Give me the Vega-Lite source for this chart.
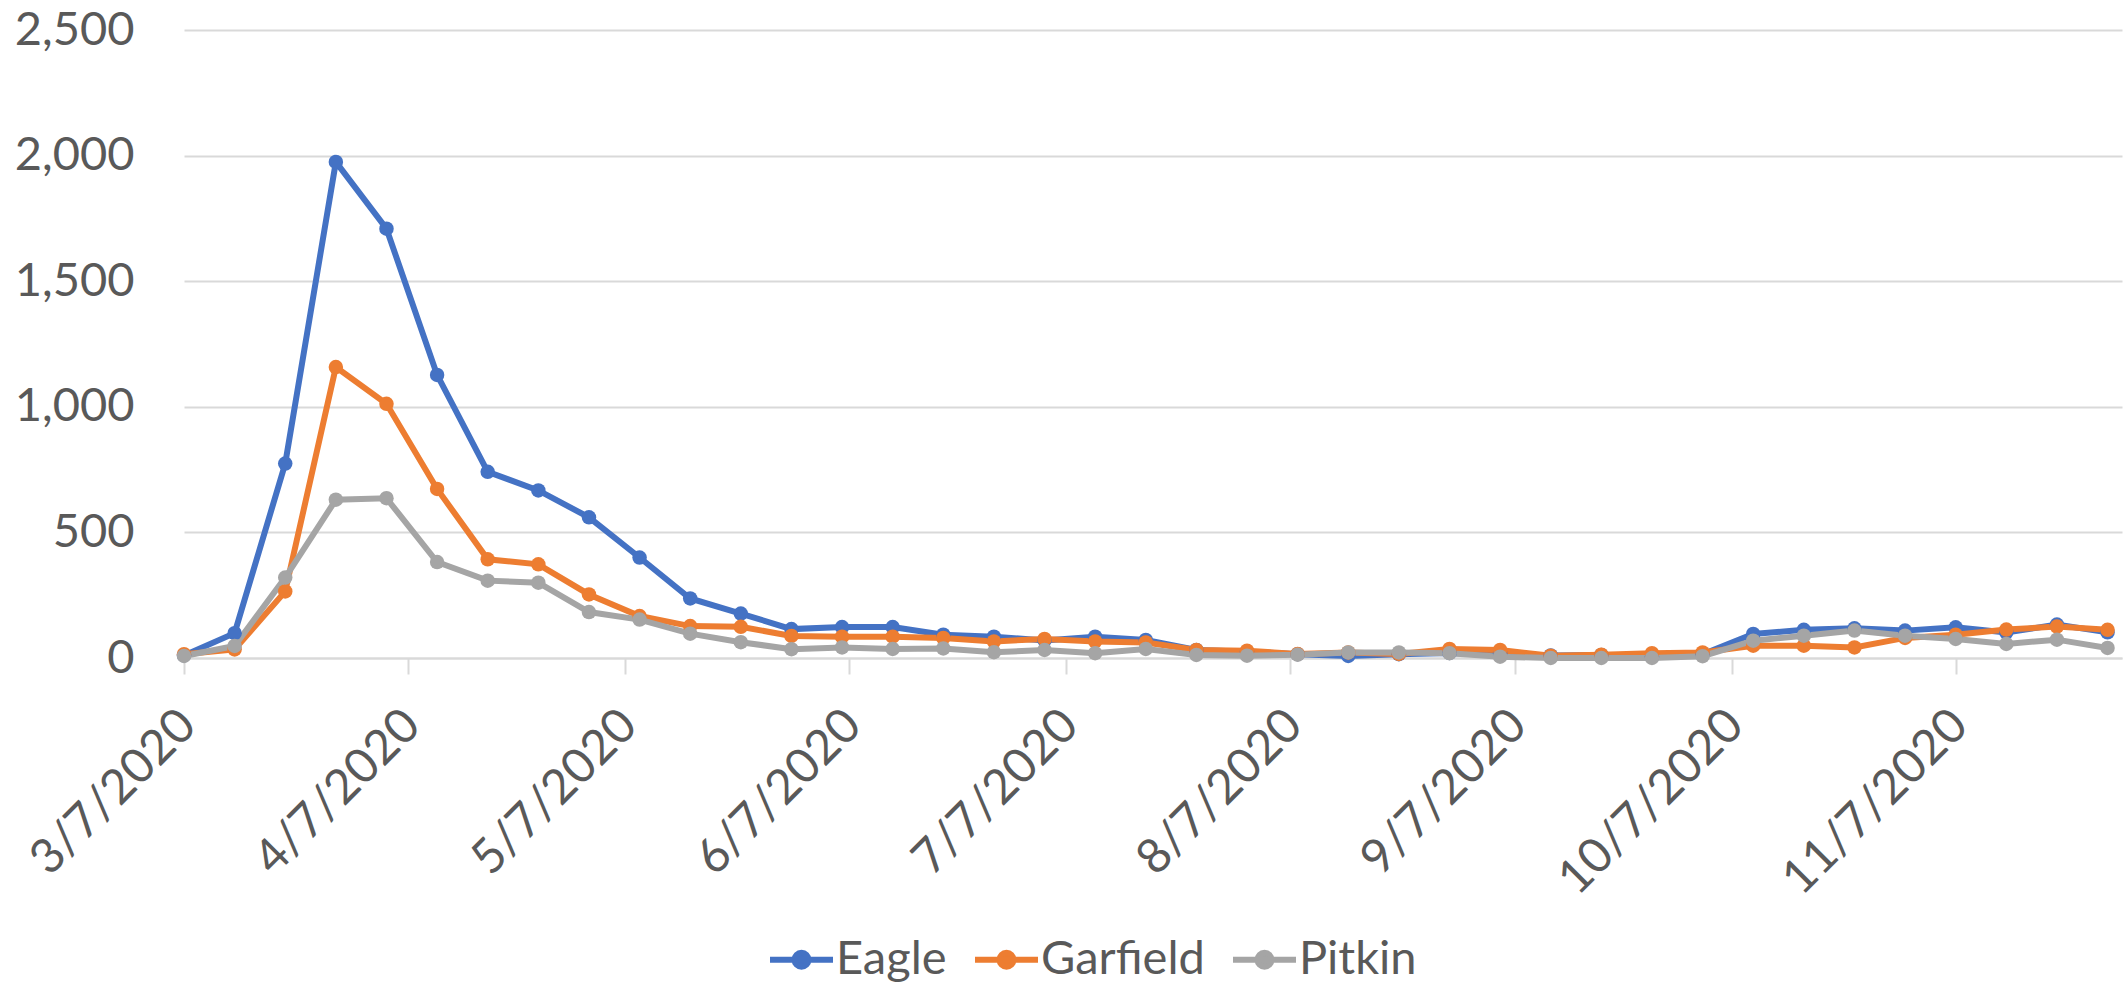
{
  "$schema": "https://vega.github.io/schema/vega-lite/v6.json",
  "width": 1938,
  "height": 628,
  "autosize": {"type": "none"},
  "padding": {"left": 184, "top": 30, "right": 4, "bottom": 325},
  "background": "white",
  "config": {"view": {"stroke": null}, "font": "Lato"},
  "data": {
    "values": [
      {"date": "2020/03/07", "county": "Eagle", "cases": 10},
      {"date": "2020/03/14", "county": "Eagle", "cases": 99},
      {"date": "2020/03/21", "county": "Eagle", "cases": 774},
      {"date": "2020/03/28", "county": "Eagle", "cases": 1975},
      {"date": "2020/04/04", "county": "Eagle", "cases": 1709},
      {"date": "2020/04/11", "county": "Eagle", "cases": 1127},
      {"date": "2020/04/18", "county": "Eagle", "cases": 741},
      {"date": "2020/04/25", "county": "Eagle", "cases": 667},
      {"date": "2020/05/02", "county": "Eagle", "cases": 560},
      {"date": "2020/05/09", "county": "Eagle", "cases": 400},
      {"date": "2020/05/16", "county": "Eagle", "cases": 237},
      {"date": "2020/05/23", "county": "Eagle", "cases": 177},
      {"date": "2020/05/30", "county": "Eagle", "cases": 115},
      {"date": "2020/06/06", "county": "Eagle", "cases": 123},
      {"date": "2020/06/13", "county": "Eagle", "cases": 123},
      {"date": "2020/06/20", "county": "Eagle", "cases": 93},
      {"date": "2020/06/27", "county": "Eagle", "cases": 85},
      {"date": "2020/07/04", "county": "Eagle", "cases": 70},
      {"date": "2020/07/11", "county": "Eagle", "cases": 85},
      {"date": "2020/07/18", "county": "Eagle", "cases": 72},
      {"date": "2020/07/25", "county": "Eagle", "cases": 32},
      {"date": "2020/08/01", "county": "Eagle", "cases": 25},
      {"date": "2020/08/08", "county": "Eagle", "cases": 15},
      {"date": "2020/08/15", "county": "Eagle", "cases": 8},
      {"date": "2020/08/22", "county": "Eagle", "cases": 15},
      {"date": "2020/08/29", "county": "Eagle", "cases": 20},
      {"date": "2020/09/05", "county": "Eagle", "cases": 18},
      {"date": "2020/09/12", "county": "Eagle", "cases": 10},
      {"date": "2020/09/19", "county": "Eagle", "cases": 12},
      {"date": "2020/09/26", "county": "Eagle", "cases": 5},
      {"date": "2020/10/03", "county": "Eagle", "cases": 15},
      {"date": "2020/10/10", "county": "Eagle", "cases": 96},
      {"date": "2020/10/17", "county": "Eagle", "cases": 112},
      {"date": "2020/10/24", "county": "Eagle", "cases": 118},
      {"date": "2020/10/31", "county": "Eagle", "cases": 109},
      {"date": "2020/11/07", "county": "Eagle", "cases": 122},
      {"date": "2020/11/14", "county": "Eagle", "cases": 102},
      {"date": "2020/11/21", "county": "Eagle", "cases": 133},
      {"date": "2020/11/28", "county": "Eagle", "cases": 102},
      {"date": "2020/03/07", "county": "Garfield", "cases": 15},
      {"date": "2020/03/14", "county": "Garfield", "cases": 34},
      {"date": "2020/03/21", "county": "Garfield", "cases": 265},
      {"date": "2020/03/28", "county": "Garfield", "cases": 1158},
      {"date": "2020/04/04", "county": "Garfield", "cases": 1012},
      {"date": "2020/04/11", "county": "Garfield", "cases": 673},
      {"date": "2020/04/18", "county": "Garfield", "cases": 393},
      {"date": "2020/04/25", "county": "Garfield", "cases": 373},
      {"date": "2020/05/02", "county": "Garfield", "cases": 253},
      {"date": "2020/05/09", "county": "Garfield", "cases": 167},
      {"date": "2020/05/16", "county": "Garfield", "cases": 127},
      {"date": "2020/05/23", "county": "Garfield", "cases": 124},
      {"date": "2020/05/30", "county": "Garfield", "cases": 88},
      {"date": "2020/06/06", "county": "Garfield", "cases": 85},
      {"date": "2020/06/13", "county": "Garfield", "cases": 85},
      {"date": "2020/06/20", "county": "Garfield", "cases": 80},
      {"date": "2020/06/27", "county": "Garfield", "cases": 66},
      {"date": "2020/07/04", "county": "Garfield", "cases": 76},
      {"date": "2020/07/11", "county": "Garfield", "cases": 66},
      {"date": "2020/07/18", "county": "Garfield", "cases": 62},
      {"date": "2020/07/25", "county": "Garfield", "cases": 32},
      {"date": "2020/08/01", "county": "Garfield", "cases": 29},
      {"date": "2020/08/08", "county": "Garfield", "cases": 16},
      {"date": "2020/08/15", "county": "Garfield", "cases": 22},
      {"date": "2020/08/22", "county": "Garfield", "cases": 16},
      {"date": "2020/08/29", "county": "Garfield", "cases": 36},
      {"date": "2020/09/05", "county": "Garfield", "cases": 32},
      {"date": "2020/09/12", "county": "Garfield", "cases": 9},
      {"date": "2020/09/19", "county": "Garfield", "cases": 13},
      {"date": "2020/09/26", "county": "Garfield", "cases": 19},
      {"date": "2020/10/03", "county": "Garfield", "cases": 22},
      {"date": "2020/10/10", "county": "Garfield", "cases": 49},
      {"date": "2020/10/17", "county": "Garfield", "cases": 49},
      {"date": "2020/10/24", "county": "Garfield", "cases": 42},
      {"date": "2020/10/31", "county": "Garfield", "cases": 80},
      {"date": "2020/11/07", "county": "Garfield", "cases": 93},
      {"date": "2020/11/14", "county": "Garfield", "cases": 113},
      {"date": "2020/11/21", "county": "Garfield", "cases": 125},
      {"date": "2020/11/28", "county": "Garfield", "cases": 112},
      {"date": "2020/03/07", "county": "Pitkin", "cases": 8},
      {"date": "2020/03/14", "county": "Pitkin", "cases": 48},
      {"date": "2020/03/21", "county": "Pitkin", "cases": 320},
      {"date": "2020/03/28", "county": "Pitkin", "cases": 630},
      {"date": "2020/04/04", "county": "Pitkin", "cases": 636},
      {"date": "2020/04/11", "county": "Pitkin", "cases": 382},
      {"date": "2020/04/18", "county": "Pitkin", "cases": 308},
      {"date": "2020/04/25", "county": "Pitkin", "cases": 300},
      {"date": "2020/05/02", "county": "Pitkin", "cases": 183},
      {"date": "2020/05/09", "county": "Pitkin", "cases": 153},
      {"date": "2020/05/16", "county": "Pitkin", "cases": 97},
      {"date": "2020/05/23", "county": "Pitkin", "cases": 63},
      {"date": "2020/05/30", "county": "Pitkin", "cases": 35},
      {"date": "2020/06/06", "county": "Pitkin", "cases": 42},
      {"date": "2020/06/13", "county": "Pitkin", "cases": 36},
      {"date": "2020/06/20", "county": "Pitkin", "cases": 38},
      {"date": "2020/06/27", "county": "Pitkin", "cases": 23},
      {"date": "2020/07/04", "county": "Pitkin", "cases": 32},
      {"date": "2020/07/11", "county": "Pitkin", "cases": 19},
      {"date": "2020/07/18", "county": "Pitkin", "cases": 36},
      {"date": "2020/07/25", "county": "Pitkin", "cases": 12},
      {"date": "2020/08/01", "county": "Pitkin", "cases": 9},
      {"date": "2020/08/08", "county": "Pitkin", "cases": 13},
      {"date": "2020/08/15", "county": "Pitkin", "cases": 22},
      {"date": "2020/08/22", "county": "Pitkin", "cases": 22},
      {"date": "2020/08/29", "county": "Pitkin", "cases": 19},
      {"date": "2020/09/05", "county": "Pitkin", "cases": 5},
      {"date": "2020/09/12", "county": "Pitkin", "cases": 0},
      {"date": "2020/09/19", "county": "Pitkin", "cases": 0},
      {"date": "2020/09/26", "county": "Pitkin", "cases": 0},
      {"date": "2020/10/03", "county": "Pitkin", "cases": 7},
      {"date": "2020/10/10", "county": "Pitkin", "cases": 69},
      {"date": "2020/10/17", "county": "Pitkin", "cases": 89},
      {"date": "2020/10/24", "county": "Pitkin", "cases": 109},
      {"date": "2020/10/31", "county": "Pitkin", "cases": 89},
      {"date": "2020/11/07", "county": "Pitkin", "cases": 76},
      {"date": "2020/11/14", "county": "Pitkin", "cases": 56},
      {"date": "2020/11/21", "county": "Pitkin", "cases": 73},
      {"date": "2020/11/28", "county": "Pitkin", "cases": 40}
    ]
  },
  "encoding": {
    "x": {
      "field": "date",
      "type": "temporal",
      "scale": {"domain": [{"year": 2020, "month": 3, "date": 7}, {"year": 2020, "month": 11, "date": 30}]},
      "axis": {
        "title": null,
        "values": [
          {"year": 2020, "month": 3, "date": 7},
          {"year": 2020, "month": 4, "date": 7},
          {"year": 2020, "month": 5, "date": 7},
          {"year": 2020, "month": 6, "date": 7},
          {"year": 2020, "month": 7, "date": 7},
          {"year": 2020, "month": 8, "date": 7},
          {"year": 2020, "month": 9, "date": 7},
          {"year": 2020, "month": 10, "date": 7},
          {"year": 2020, "month": 11, "date": 7}
        ],
        "format": "%-m/%-d/%Y",
        "formatType": "time",
        "labelAngle": -45,
        "labelAlign": "right",
        "labelBaseline": "middle",
        "labelFontSize": 48,
        "labelColor": "#595959",
        "labelPadding": 44,
        "labelOffset": 4,
        "labelLimit": 0,
        "labelFlush": false,
        "labelOverlap": false,
        "labelBound": false,
        "tickColor": "#D9D9D9",
        "tickSize": 16,
        "tickWidth": 2,
        "domainColor": "#D9D9D9",
        "domainWidth": 2,
        "grid": false
      }
    },
    "y": {
      "field": "cases",
      "type": "quantitative",
      "scale": {"domain": [0, 2500], "nice": false},
      "axis": {
        "title": null,
        "values": [0, 500, 1000, 1500, 2000, 2500],
        "format": ",d",
        "labelFontSize": 47,
        "labelColor": "#595959",
        "labelPadding": 50,
        "labelLimit": 0,
        "domain": false,
        "ticks": false,
        "gridColor": "#D9D9D9",
        "gridWidth": 2
      }
    },
    "color": {
      "field": "county",
      "type": "nominal",
      "scale": {"domain": ["Eagle", "Garfield", "Pitkin"], "range": ["#4472C4", "#ED7D31", "#A5A5A5"]},
      "legend": {
        "title": null,
        "orient": "none",
        "legendX": 583,
        "legendY": 895,
        "direction": "horizontal",
        "labelFontSize": 47,
        "labelColor": "#595959",
        "labelOffset": 0,
        "labelLimit": 0,
        "columnPadding": 16,
        "symbolType": "M-1,0H1M0.22,0A0.22,0.22 0 1,1 -0.22,0A0.22,0.22 0 1,1 0.22,0Z",
        "symbolSize": 3969,
        "symbolStrokeWidth": 6,
        "encode": {
          "symbols": {
            "update": {
              "fill": {"scale": "color", "field": "value"},
              "stroke": {"scale": "color", "field": "value"},
              "opacity": {"value": 1}
            }
          }
        }
      }
    }
  },
  "layer": [
    {"mark": {"type": "line", "strokeWidth": 6}},
    {"mark": {"type": "point", "filled": true, "size": 210, "opacity": 1}}
  ]
}
